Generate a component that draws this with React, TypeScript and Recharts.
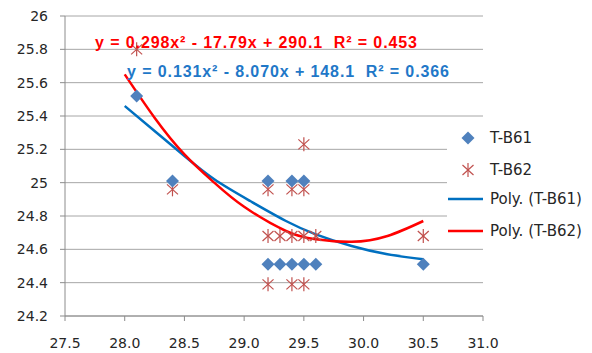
import React from "react";
import { ComposedChart, Scatter, Line, CartesianGrid, XAxis, YAxis } from "recharts";

// T-B61 points
const b61X = [28.1, 28.4, 29.2, 29.4, 29.5, 29.2, 29.3, 29.4, 29.5, 29.6, 30.5];
const b61Y = [25.52, 25.01, 25.01, 25.01, 25.01, 24.51, 24.51, 24.51, 24.51, 24.51, 24.51];

// T-B62 points
const b62X = [28.1, 28.4, 29.2, 29.4, 29.5, 29.5, 29.2, 29.3, 29.4, 29.5, 29.6, 30.5, 29.2, 29.4, 29.5];
const b62Y = [25.8, 24.96, 24.96, 24.96, 24.96, 25.23, 24.68, 24.68, 24.68, 24.68, 24.68, 24.68, 24.39, 24.39, 24.39];

// trend curves
const poly61X = [28.0, 28.25, 28.5, 28.75, 29.05, 29.35, 29.6, 29.9, 30.2, 30.5];
const poly61Y = [25.46, 25.31, 25.16, 25.02, 24.89, 24.77, 24.69, 24.62, 24.57, 24.54];
const poly62X = [28.0, 28.25, 28.5, 28.75, 29.0, 29.35, 29.6, 29.9, 30.2, 30.5];
const poly62Y = [25.65, 25.39, 25.17, 25.0, 24.855, 24.71, 24.66, 24.645, 24.68, 24.77];

const xTicks = [27.5, 28, 28.5, 29, 29.5, 30, 30.5, 31];
const yTicks = [24.2, 24.4, 24.6, 24.8, 25, 25.2, 25.4, 25.6, 25.8, 26];

const eq62 = "y = 0.298x² - 17.79x + 290.1  R² = 0.453";
const eq61 = "y = 0.131x² - 8.070x + 148.1  R² = 0.366";

const zip = (xs: number[], ys: number[]) => xs.map((x, i) => ({ x, y: ys[i] }));

const BLUE_PT = "#4f81bd";
const RED_PT = "#c0504d";
const BLUE_LINE = "#0070c0";
const RED_LINE = "#ff0000";

const Diamond = (props: any) => {
  const { cx, cy } = props;
  const r = 6.5;
  return <path d={`M${cx},${cy - r}L${cx + r},${cy}L${cx},${cy + r}L${cx - r},${cy}Z`} fill={BLUE_PT} />;
};

const Star = (props: any) => {
  const { cx, cy } = props;
  return (
    <g stroke={RED_PT} strokeWidth={1.2} fill="none">
      <line x1={cx} y1={cy - 7} x2={cx} y2={cy + 7} />
      <line x1={cx - 5.5} y1={cy - 5} x2={cx + 5.5} y2={cy + 5} />
      <line x1={cx + 5.5} y1={cy - 5} x2={cx - 5.5} y2={cy + 5} />
    </g>
  );
};

const tickStyle = { fontFamily: "DejaVu Sans", fontSize: 14, fill: "#262626" };

const App: React.FC = () => {
  return (
    <div style={{ position: "absolute", left: 0, top: 0, width: 592, height: 353, background: "#fff" }}>
      <ComposedChart width={592} height={353} margin={{ top: 16, right: 109, bottom: 0, left: 15 }}>
        <CartesianGrid vertical={false} stroke="#a6a6a6" />
        <XAxis
          type="number"
          dataKey="x"
          domain={[27.5, 31]}
          ticks={xTicks}
          tickFormatter={(v: number) => v.toFixed(1)}
          stroke="#8c8c8c"
          tickSize={5}
          tickMargin={17}
          height={37}
          tick={tickStyle}
          allowDataOverflow
        />
        <YAxis
          type="number"
          dataKey="y"
          domain={[24.2, 26]}
          ticks={yTicks}
          tickFormatter={(v: number) => String(Number(v.toFixed(1)))}
          stroke="#8c8c8c"
          tickSize={5}
          tickMargin={12}
          width={50}
          tick={tickStyle}
          allowDataOverflow
        />
        <Line
          data={zip(poly61X, poly61Y)}
          dataKey="y"
          type="natural"
          stroke={BLUE_LINE}
          strokeWidth={2.5}
          dot={false}
          isAnimationActive={false}
        />
        <Line
          data={zip(poly62X, poly62Y)}
          dataKey="y"
          type="natural"
          stroke={RED_LINE}
          strokeWidth={2.5}
          dot={false}
          isAnimationActive={false}
        />
        <Scatter data={zip(b62X, b62Y)} dataKey="y" shape={Star} isAnimationActive={false} />
        <Scatter data={zip(b61X, b61Y)} dataKey="y" shape={Diamond} isAnimationActive={false} />
      </ComposedChart>

      <div
        style={{
          position: "absolute", left: 95, top: 34, whiteSpace: "pre",
          fontFamily: "Liberation Sans", fontWeight: "bold", fontSize: 16, letterSpacing: 0.9, color: RED_LINE,
        }}
      >
        {eq62}
      </div>
      <div
        style={{
          position: "absolute", left: 127, top: 63, whiteSpace: "pre",
          fontFamily: "Liberation Sans", fontWeight: "bold", fontSize: 16, letterSpacing: 0.9, color: "#1f78c8",
        }}
      >
        {eq61}
      </div>

      {/* legend */}
      <div style={{ position: "absolute", left: 447, top: 121, width: 145, height: 124, background: "#fff" }}>
        <svg width={145} height={124} style={{ position: "absolute", left: 0, top: 0 }}>
          <Diamond cx={21} cy={17} />
          <Star cx={21} cy={49} />
          <line x1={1} y1={78} x2={36} y2={78} stroke={BLUE_LINE} strokeWidth={2.5} />
          <line x1={1} y1={110} x2={36} y2={110} stroke={RED_LINE} strokeWidth={2.5} />
          <g fontFamily="DejaVu Sans" fontSize={15} fill="#262626">
            <text x={43} y={17} dy="0.35em">T-B61</text>
            <text x={43} y={49} dy="0.35em">T-B62</text>
            <text x={43} y={78} dy="0.35em">Poly. (T-B61)</text>
            <text x={43} y={110} dy="0.35em">Poly. (T-B62)</text>
          </g>
        </svg>
      </div>
    </div>
  );
};

export default App;
